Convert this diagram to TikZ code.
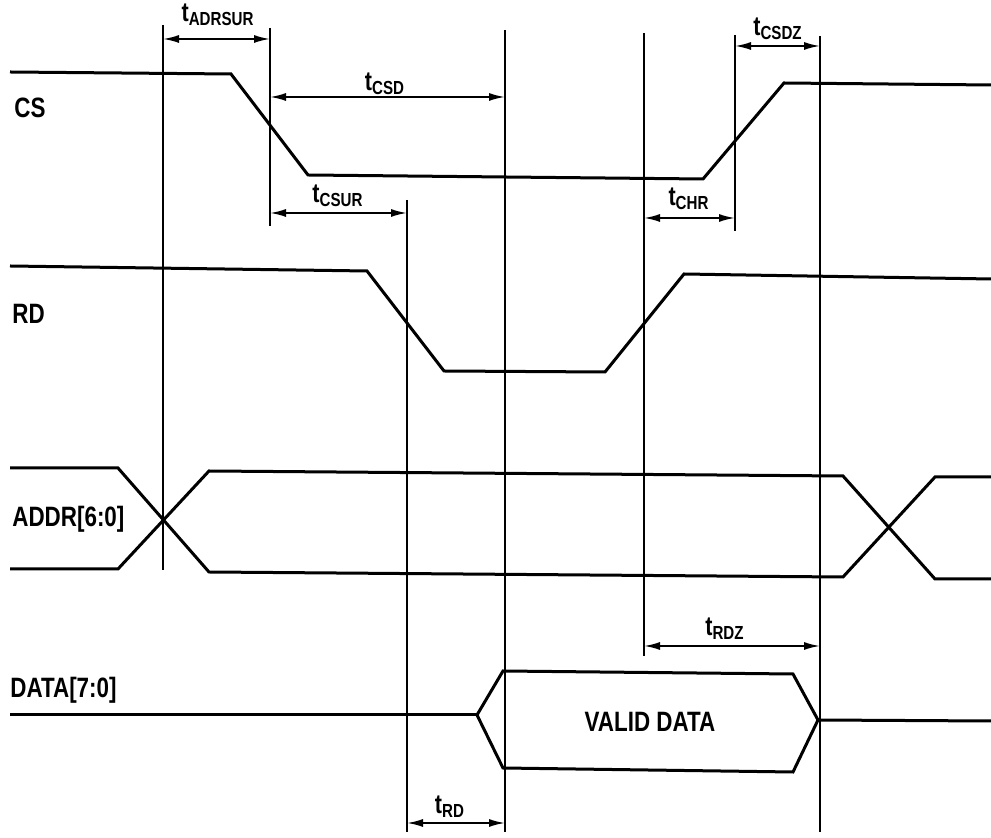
\documentclass[tikz,border=0pt]{standalone}
\usepackage{fontspec}
\setmainfont[FakeStretch=0.8]{Liberation Sans}
\usetikzlibrary{arrows.meta}

\tikzset{
  wave/.style={line width=1.5pt, line join=miter},
  edgeline/.style={line width=1.2pt},
  dim/.style={line width=0.9pt, {Latex[length=8pt,width=4pt]}-{Latex[length=8pt,width=4pt]}},
  sig/.style={anchor=west, inner sep=0pt, font=\fontsize{14}{16}\selectfont\bfseries},
  tlab/.style={inner sep=0pt, font=\fontsize{13.5}{15}\selectfont\bfseries},
}

\begin{document}
\begin{tikzpicture}[x={(0.5pt,0)}, y={(0,-0.5pt)}]
  \useasboundingbox (0,0) rectangle (991,838);
  % signal names
  \node[sig] (cs) at (14,108) {CS};
  \node[sig] (rd) at (12,314) {RD};
  \node[sig] (addr) at (12,519) {ADDR[6:0]};
  \node[sig] (data) at (10,690) {DATA[7:0]};
  % CS
  \draw[wave] (10,72) -- (231,74) -- (308,175) -- (703,179) -- (784,83) -- (991,85);
  % RD
  \draw[wave] (10,266) -- (367,271) -- (444,371) -- (605,372) -- (684,274) -- (991,279);
  % ADDR
  \draw[wave] (10,468) -- (118,468) -- (209,572) -- (843,577) -- (935,477) -- (991,477);
  \draw[wave] (10,569) -- (118,569) -- (209,471) -- (843,476) -- (935,579) -- (991,579);
  % DATA
  \draw[wave] (10,715) -- (477,715);
  \draw[wave] (477,715) -- (503,671) -- (793,674) -- (818,720) -- (793,772) -- (503,768) -- cycle;
  \draw[wave] (818,720) -- (991,721);
  \node[sig, anchor=center] (valid) at (650,722) {VALID DATA};
  % timing edges
  \draw[edgeline] (163,25) -- (163,570);
  \draw[edgeline] (270,28) -- (270,226);
  \draw[edgeline] (407,200) -- (407,832);
  \draw[edgeline] (505,30) -- (505,832);
  \draw[edgeline] (644,33) -- (644,656);
  \draw[edgeline] (735,35) -- (735,231);
  \draw[edgeline] (820,36) -- (820,832);
  % parameters
  \draw[dim] (163,39) -- (270,39);
  \node[tlab] (tadrsur) at (218,15) {t\textsubscript{ADRSUR}};
  \draw[dim] (270,97) -- (505,97);
  \node[tlab] (tcsd) at (385,84) {t\textsubscript{CSD}};
  \draw[dim] (270,213) -- (407,213);
  \node[tlab] (tcsur) at (338,196) {t\textsubscript{CSUR}};
  \draw[dim] (644,218) -- (735,218);
  \node[tlab] (tchr) at (689,199) {t\textsubscript{CHR}};
  \draw[dim] (735,46) -- (820,46);
  \node[tlab] (tcsdz) at (778,29) {t\textsubscript{CSDZ}};
  \draw[dim] (644,646) -- (820,646);
  \node[tlab] (trdz) at (725,629) {t\textsubscript{RDZ}};
  \draw[dim] (407,823) -- (505,823);
  \node[tlab] (trd) at (450,807) {t\textsubscript{RD}};
\end{tikzpicture}
\end{document}
